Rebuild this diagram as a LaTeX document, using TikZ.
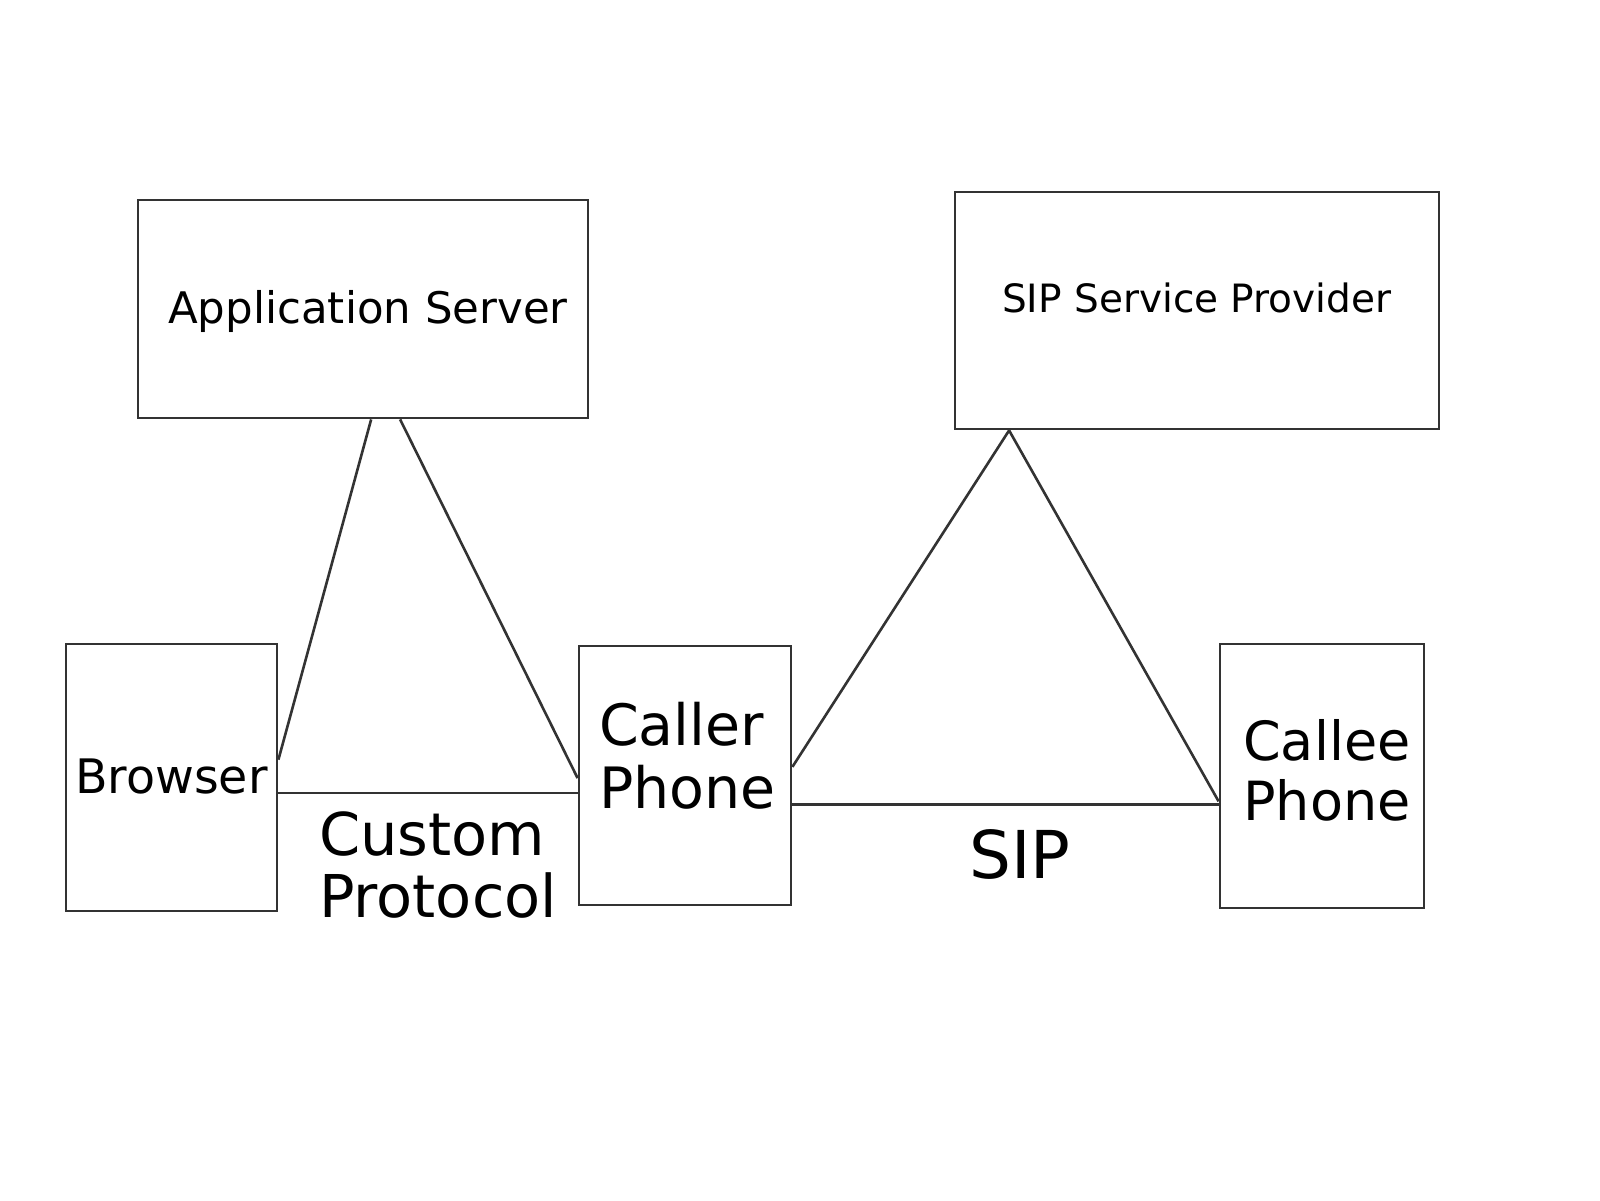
\documentclass[tikz,border=0pt]{standalone}
\usepackage{fontspec}
\setmainfont{DejaVu Sans}
\usetikzlibrary{calc}
\begin{document}
\begin{tikzpicture}[x=1pt,y=-1pt,
  box/.style={draw=black!80, line width=2.8pt, rectangle, inner sep=0pt},
  wire/.style={draw=black!80, line width=2.6pt},
  lbl/.style={anchor=base west, inner sep=0pt, text=black}]
\fill[white] (0,0) rectangle (1600,1200);
\path[use as bounding box] (0,0) rectangle (1600,1200);
% boxes
\node[box, minimum width=450pt, minimum height=218pt] (app) at (363,309) {};
\node[box, minimum width=484pt, minimum height=237pt] (sip) at (1197,310.5) {};
\node[box, minimum width=211pt, minimum height=267pt] (browser) at (171.5,777.5) {};
\node[box, minimum width=212pt, minimum height=259pt] (caller) at (685,775.5) {};
\node[box, minimum width=204pt, minimum height=264pt] (callee) at (1322,776) {};
% labels
\node[lbl, font=\fontsize{43.5}{50}\selectfont] (tapp) at (168,323) {Application Server};
\node[lbl, font=\fontsize{39}{47}\selectfont] (tsip) at (1002,312) {SIP Service Provider};
\node[lbl, font=\fontsize{47.5}{54}\selectfont] (tbrowser) at (75,793) {Browser};
\node[lbl, font=\fontsize{57}{62}\selectfont] (tcaller1) at (599,745) {Caller};
\node[lbl, font=\fontsize{57}{62}\selectfont] (tcaller2) at (599,808) {Phone};
\node[lbl, font=\fontsize{54}{60}\selectfont] (tcallee1) at (1243,760) {Callee};
\node[lbl, font=\fontsize{54}{60}\selectfont] (tcallee2) at (1243,820) {Phone};
\node[lbl, font=\fontsize{59}{62}\selectfont] (tcustom1) at (319,855) {Custom};
\node[lbl, font=\fontsize{59}{62}\selectfont] (tcustom2) at (319,917) {Protocol};
\node[lbl, font=\fontsize{66}{72}\selectfont] (tsipproto) at (969,878) {SIP};
% connectors
\coordinate (sipapex) at ($(sip.south west)!0.114!(sip.south east)$);
\draw[wire] ($(browser.north east)!0.434!(browser.south east)$) -- ($(app.south west)!0.518!(app.south east)$);
\draw[wire] ($(app.south west)!0.582!(app.south east)$) -- ($(caller.north west)!0.51!(caller.south west)$);
\draw[wire] ($(browser.north east)!0.558!(browser.south east)$) coordinate (bp) -- (bp -| caller.west);
\draw[wire] ($(caller.north east)!0.467!(caller.south east)$) -- (sipapex);
\draw[wire] (sipapex) -- ($(callee.north west)!0.595!(callee.south west)$);
\draw[wire] ($(caller.north east)!0.61!(caller.south east)$) coordinate (cp) -- (cp -| callee.west);
\end{tikzpicture}
\end{document}
